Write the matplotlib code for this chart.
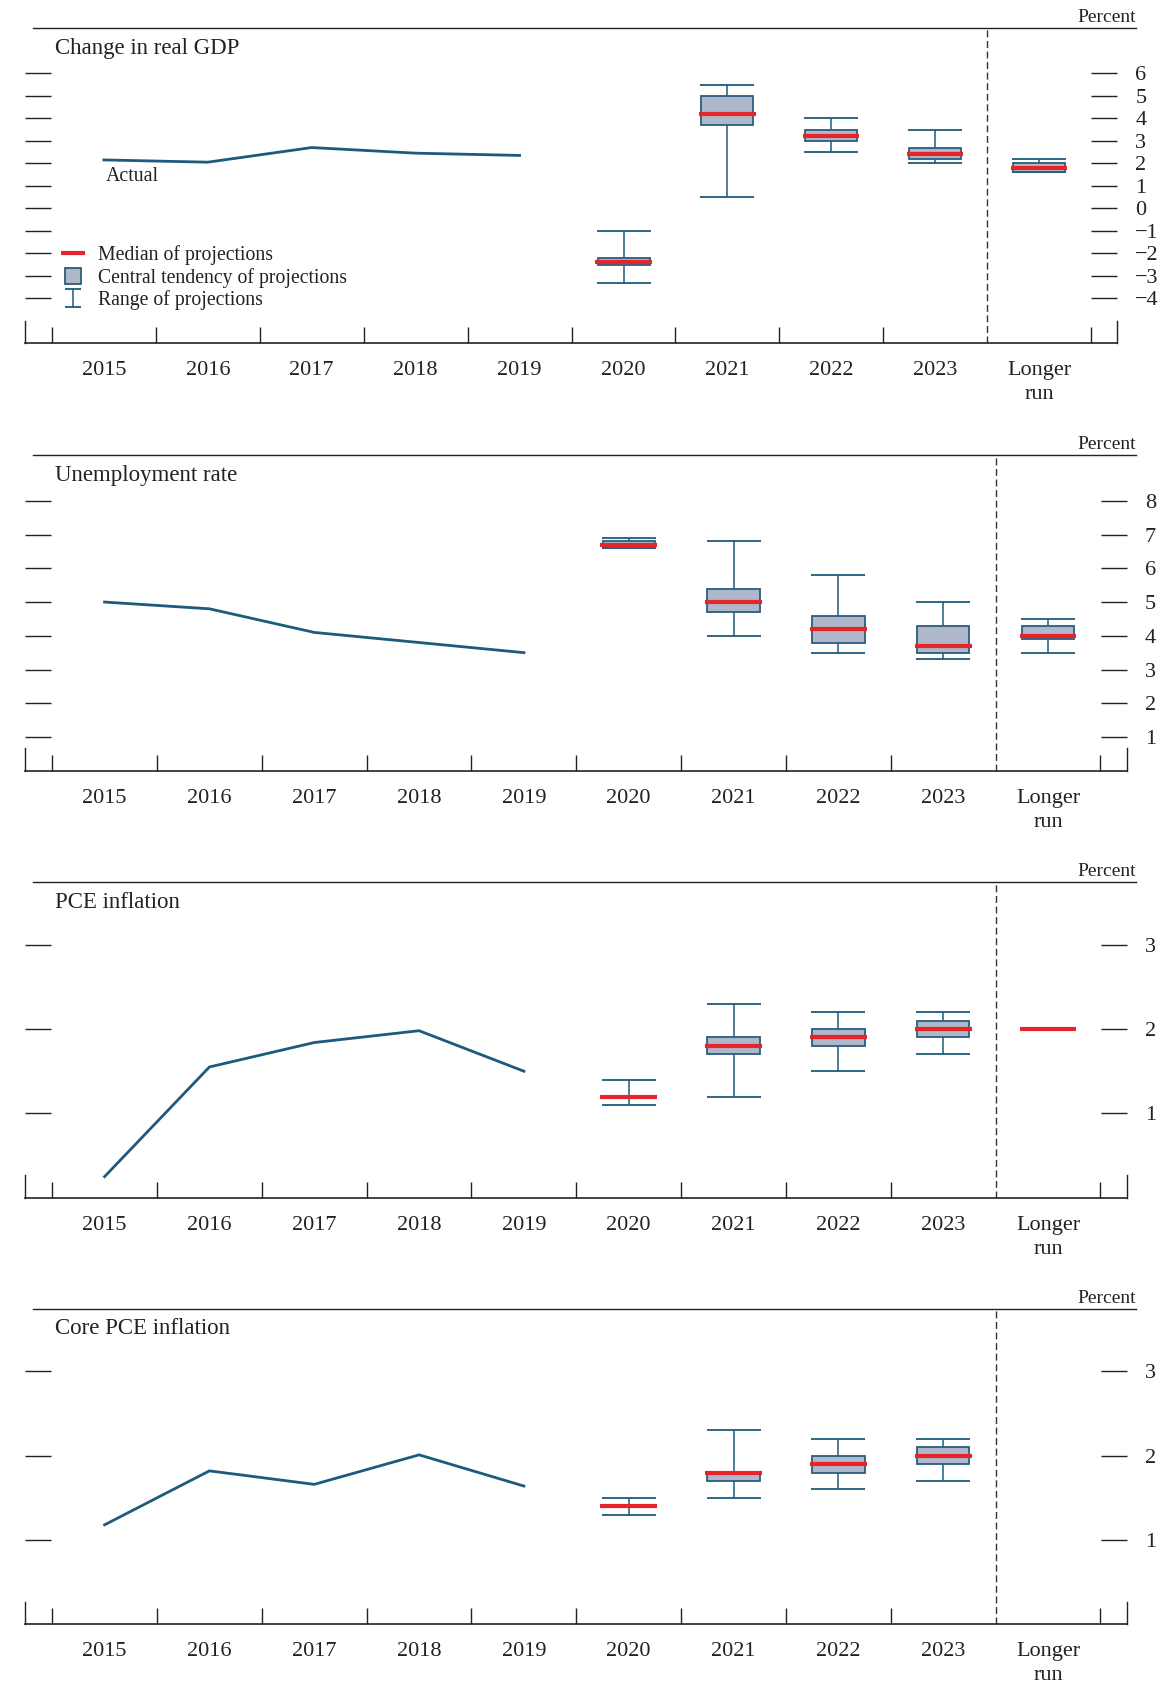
import numpy as np
import matplotlib
matplotlib.use('Agg')
import matplotlib.pyplot as plt
from matplotlib.lines import Line2D
from matplotlib.patches import Patch, Rectangle
from matplotlib.legend_handler import HandlerPatch, HandlerErrorbar

plt.rcParams['font.family'] = ['Liberation Serif', 'DejaVu Serif']

# categories
years = ['2015', '2016', '2017', '2018', '2019', '2020', '2021', '2022', '2023', 'Longer\nrun']
nan = np.nan

# Change in real GDP
gdp_actual = [2.15, 2.05, 2.7, 2.45, 2.35]
gdp_median = [-2.4, 4.2, 3.2, 2.4, 1.8]
gdp_ct_lo = [-2.5, 3.7, 3.0, 2.2, 1.6]
gdp_ct_hi = [-2.2, 5.0, 3.5, 2.7, 2.0]
gdp_rng_lo = [-3.3, 0.5, 2.5, 2.0, 1.6]
gdp_rng_hi = [-1.0, 5.5, 4.0, 3.5, 2.2]

# Unemployment rate
unemp_actual = [5.0, 4.8, 4.1, 3.8, 3.5]
unemp_median = [6.7, 5.0, 4.2, 3.7, 4.0]
unemp_ct_lo = [6.6, 4.7, 3.8, 3.5, 3.9]
unemp_ct_hi = [6.8, 5.4, 4.6, 4.3, 4.3]
unemp_rng_lo = [6.6, 4.0, 3.5, 3.3, 3.5]
unemp_rng_hi = [6.9, 6.8, 5.8, 5.0, 4.5]

# PCE inflation
pce_actual = [0.25, 1.55, 1.84, 1.98, 1.5]
pce_median = [1.2, 1.8, 1.9, 2.0, 2.0]
pce_ct_lo = [nan, 1.7, 1.8, 1.9, nan]
pce_ct_hi = [nan, 1.9, 2.0, 2.1, nan]
pce_rng_lo = [1.1, 1.2, 1.5, 1.7, nan]
pce_rng_hi = [1.4, 2.3, 2.2, 2.2, nan]

# Core PCE inflation
core_actual = [1.18, 1.82, 1.66, 2.01, 1.64]
core_median = [1.4, 1.8, 1.9, 2.0, nan]
core_ct_lo = [nan, 1.7, 1.8, 1.9, nan]
core_ct_hi = [nan, 1.8, 2.0, 2.1, nan]
core_rng_lo = [1.3, 1.5, 1.6, 1.7, nan]
core_rng_hi = [1.5, 2.3, 2.2, 2.2, nan]

LINE_C = '#1d5a7c'
BOX_FILL = '#aeb8ca'
BOX_EDGE = '#2b5d7e'
RED = '#e8242b'
AX_C = '#222222'

W, H = 1168, 1697
fig = plt.figure(figsize=(W / 100, H / 100), dpi=100)

# (title, ylim, yticks, right edge px, top px, bottom px, data)
panels = [
    ('Change in real GDP', (-6, 8), range(-4, 7), 1117.2, 28.3, 343.3,
     (gdp_actual, gdp_median, gdp_ct_lo, gdp_ct_hi, gdp_rng_lo, gdp_rng_hi)),
    ('Unemployment rate', (0, 9.36), range(1, 9), 1126.7, 455.0, 770.7,
     (unemp_actual, unemp_median, unemp_ct_lo, unemp_ct_hi, unemp_rng_lo, unemp_rng_hi)),
    ('PCE inflation', (0, 3.74), range(1, 4), 1126.7, 882.3, 1197.7,
     (pce_actual, pce_median, pce_ct_lo, pce_ct_hi, pce_rng_lo, pce_rng_hi)),
    ('Core PCE inflation', (0, 3.74), range(1, 4), 1126.7, 1309.0, 1624.3,
     (core_actual, core_median, core_ct_lo, core_ct_hi, core_rng_lo, core_rng_hi)),
]

x_hist = np.arange(5)
x_proj = np.arange(5, 10)
left_px = 24.9

axes = []
for title, ylim, yticks, right_px, top_px, bot_px, data in panels:
    actual, med, ct_lo, ct_hi, rng_lo, rng_hi = [np.asarray(d, dtype=float) for d in data]
    ax = fig.add_axes([left_px / W, 1 - bot_px / H, (right_px - left_px) / W, (bot_px - top_px) / H])
    axes.append(ax)

    ax.plot(x_hist, actual, color=LINE_C, lw=2, solid_joinstyle='miter', zorder=3)

    # range of projections
    ax.errorbar(x_proj, rng_lo, yerr=[np.zeros(5), rng_hi - rng_lo], fmt='none',
                ecolor=LINE_C, elinewidth=1.1, capsize=19.5, capthick=1.3, zorder=2)
    # central tendency
    ax.bar(x_proj, ct_hi - ct_lo, bottom=ct_lo, width=0.5, color=BOX_FILL,
           edgecolor=BOX_EDGE, linewidth=1.3, zorder=3)
    # median
    ax.hlines(med, x_proj - 0.27, x_proj + 0.27, color=RED, lw=3.0, zorder=4,
              capstyle='butt')

    ax.axvline(8.5, color='#333333', lw=1.0, ls=(0, (5, 2.6)), zorder=1)

    ax.set_xlim(-0.76, 9.75)
    ax.set_ylim(*ylim)

    ax.set_xticks([b - 0.5 for b in range(10) if b != 9] + [9.5])
    ax.set_xticklabels([])
    ax.set_xticks(np.arange(10), labels=years, minor=True)
    ax.tick_params(axis='x', which='major', direction='in', length=11.5, width=1.0,
                   color=AX_C, top=False)
    ax.tick_params(axis='x', which='minor', length=0, pad=13, labelsize=16, colors=AX_C)
    for lbl in ax.get_xticklabels(minor=True):
        lbl.set_linespacing(1.35)

    ax.set_yticks(list(yticks))
    ax.tick_params(axis='y', direction='in', length=18.5, width=1.0, color=AX_C,
                   left=True, right=True, labelleft=False, labelright=True,
                   pad=13, labelsize=16, labelcolor=AX_C)

    ax.spines['top'].set_visible(False)
    stub = (ylim[1] - ylim[0]) * 0.072
    for side in ['left', 'right']:
        ax.spines[side].set_bounds(ylim[0], ylim[0] + stub)
        ax.spines[side].set_color(AX_C)
        ax.spines[side].set_linewidth(1.0)
    ax.spines['bottom'].set_color(AX_C)
    ax.spines['bottom'].set_linewidth(1.2)

    # top rule, title and unit
    fig.add_artist(Line2D([32.5 / W, 1136 / W], [1 - top_px / H] * 2,
                          transform=fig.transFigure, color=AX_C, lw=1.0))
    fig.text(1136 / W, 1 - (top_px - 6) / H, 'Percent', ha='right', va='baseline',
             fontsize=14, color=AX_C)
    fig.text(54.7 / W, 1 - (top_px + 25.5) / H, title, ha='left', va='baseline',
             fontsize=16.5, color=AX_C)

ax0 = axes[0]
ax0.text(0.02, 1.4, 'Actual', ha='left', va='center', fontsize=14.3, color=AX_C)

# legend
med_h = Line2D([], [], color=RED, lw=3.0, solid_capstyle='butt')
ct_h = Patch(facecolor=BOX_FILL, edgecolor=BOX_EDGE, linewidth=1.3)
rng_h = ax0.errorbar([nan], [nan], yerr=[[0], [0]], fmt='none', ecolor=LINE_C,
                     elinewidth=1.1, capsize=6, capthick=1.3)


def square(legend, orig_handle, xdescent, ydescent, width, height, fontsize):
    return Rectangle((-xdescent + (width - height) / 2, -ydescent), height, height)


ax0.legend([med_h, ct_h, rng_h],
           ['Median of projections', 'Central tendency of projections', 'Range of projections'],
           handler_map={Patch: HandlerPatch(patch_func=square),
                        type(rng_h): HandlerErrorbar(yerr_size=0.45)},
           loc='center left', bbox_to_anchor=(0.0328, 0.208), frameon=False,
           fontsize=14.2, handlelength=1.25, handleheight=0.86, handletextpad=0.65,
           labelspacing=0.14, borderpad=0, borderaxespad=0, labelcolor=AX_C)

fig.savefig('out.png', dpi=100)
